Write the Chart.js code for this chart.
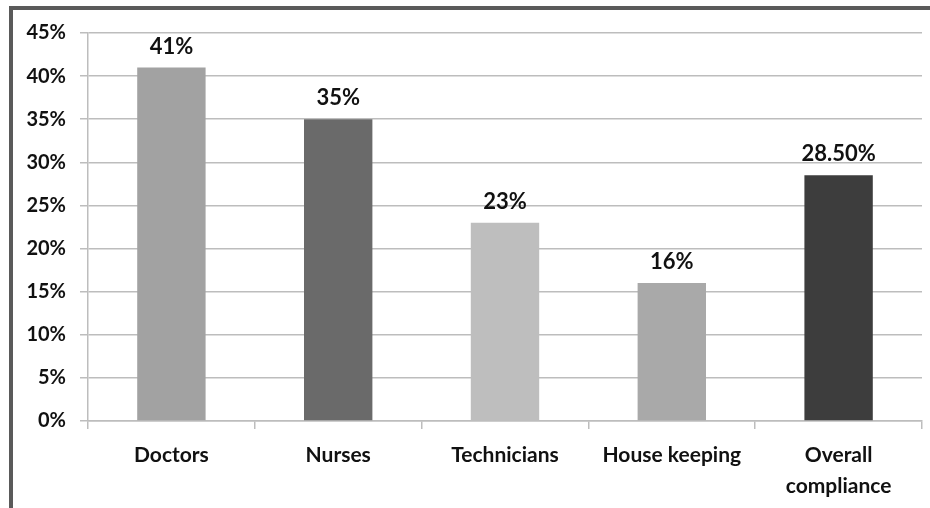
<!DOCTYPE html>
<html>
<head>
<meta charset="utf-8">
<script src="https://cdn.jsdelivr.net/npm/chart.js@4.4.1/dist/chart.umd.min.js"></script>
<style>
  html, body { margin: 0; padding: 0; background: #fff; }
  #wrap { position: relative; width: 930px; height: 508px; }
  #frame { position: absolute; left: 9px; top: 6px; width: 930px; height: 510px;
           border-top: 4px solid #5a5a5a; border-left: 4px solid #5a5a5a; box-sizing: border-box; }
  canvas { position: absolute; left: 0; top: 0; }
</style>
</head>
<body>
<div id="wrap">
  <div id="frame"></div>
  <canvas id="myChart" width="930" height="508"></canvas>
</div>
<script>
const categorias = ['Doctors', 'Nurses', 'Technicians', 'House keeping', ['Overall', 'compliance']]
const valores = [41, 35, 23, 16, 28.5]
const etiquetas = ['41%', '35%', '23%', '16%', '28.50%']
const colores = ['#a2a2a2', '#6a6a6a', '#bebebe', '#a9a9a9', '#3d3d3d']

const fuente = "Lato, 'DejaVu Sans', sans-serif"

// dibuja los porcentajes encima de cada barra
const etiquetasPlugin = {
  id: 'etiquetas',
  afterDatasetsDraw(chart) {
    const ctx = chart.ctx
    const meta = chart.getDatasetMeta(0)
    ctx.save()
    ctx.font = "bold 22px " + fuente
    ctx.fillStyle = '#111'
    ctx.textAlign = 'center'
    ctx.textBaseline = 'middle'
    meta.data.forEach((bar, i) => {
      ctx.fillText(etiquetas[i], bar.x, bar.y - 21)
    })
    ctx.restore()
  }
}

const $ctx = document.getElementById('myChart').getContext('2d')

const datos = {
  labels: categorias,
  datasets: [{
    data: valores,
    backgroundColor: colores,
    barPercentage: 0.41,
    categoryPercentage: 1
  }]
}

const config = {
  type: 'bar',
  data: datos,
  options: {
    responsive: false,
    animation: false,
    layout: { padding: { top: 33, right: 8, left: 0, bottom: 0 } },
    plugins: { legend: { display: false }, tooltip: { enabled: false } },
    scales: {
      y: {
        min: 0, max: 45,
        ticks: {
          stepSize: 5,
          padding: 14,
          color: '#111',
          font: { family: fuente, size: 20, weight: 'bold' },
          callback: v => v + '%'
        },
        grid: { color: '#bdbdbd', lineWidth: 1.5, tickLength: 8 },
        border: { color: '#bdbdbd', width: 1.5 },
        afterFit(scale) { scale.width = 88 }
      },
      x: {
        ticks: {
          padding: 10,
          color: '#111',
          font: { family: fuente, size: 21, weight: 'bold', lineHeight: 1.5 }
        },
        grid: { drawOnChartArea: false, color: '#bdbdbd', lineWidth: 1.5, tickLength: 8 },
        border: { color: '#bdbdbd', width: 1.5 },
        afterFit(scale) { scale.height = 87 }
      }
    }
  },
  plugins: [etiquetasPlugin]
}

var mychart = new Chart($ctx, config)
</script>
</body>
</html>
